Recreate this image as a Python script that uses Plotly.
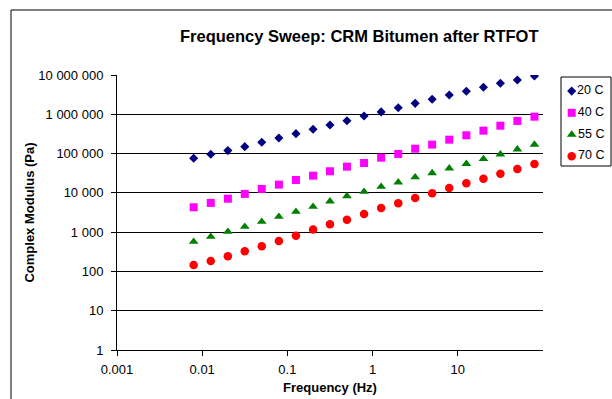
import plotly.graph_objects as go

# ---- data ----
freq = [0.00794, 0.0126, 0.02, 0.0316, 0.05, 0.0794, 0.126, 0.2, 0.316, 0.5,
        0.794, 1.26, 2, 3.16, 5, 7.94, 12.6, 20, 31.6, 50, 79.4]
g20 = [76000, 96000, 119000, 150000, 194000, 250000, 321000, 415000, 535000, 687000,
       905000, 1150000, 1470000, 1900000, 2410000, 3100000, 3850000, 4860000, 6150000,
       7460000, 9440000]
g40 = [4300, 5540, 7100, 9400, 12600, 16200, 21300, 27400, 35500, 46500,
       57600, 78700, 97800, 133000, 169000, 226000, 292000, 383000, 513000, 676000, 869000]
g55 = [573, 768, 1030, 1380, 1850, 2480, 3320, 4450, 6100, 8300,
       10700, 14400, 18600, 25000, 32000, 42000, 55000, 73000, 96000, 128000, 169000]
g70 = [146, 185, 244, 327, 437, 597, 815, 1160, 1590, 2080,
       2900, 4130, 5430, 7400, 9800, 13300, 17500, 23000, 30800, 40500, 54300]

series_names = ["20 C", "40 C", "55 C", "70 C"]
series_vals = [g20, g40, g55, g70]

y_tickvals = [1, 10, 100, 1000, 10000, 100000, 1000000, 10000000]
y_ticktext = ["1", "10", "100", "1 000", "10 000", "100 000", "1 000 000", "10 000 000"]
x_tickvals = [0.001, 0.01, 0.1, 1, 10]
x_ticktext = ["0.001", "0.01", "0.1", "1", "10"]

title_text = "Frequency Sweep: CRM Bitumen after RTFOT"
x_title = "Frequency (Hz)"
y_title = "Complex Modulus (Pa)"

# ---- styles ----
styles = [
    dict(symbol="diamond", color="#000080", size=7),
    dict(symbol="square", color="#FF00FF", size=8),
    dict(symbol="triangle-up", color="#008000", size=8.5),
    dict(symbol="circle", color="#FF0000", size=8.5),
]
FONT = "Liberation Sans, Arial, sans-serif"

W, H = 612, 399
L, R, T, B = 117, 0, 75, 49
plot_w = W - L - R
plot_h = H - T - B
main_right_px = 543
main_dom = (main_right_px - L) / plot_w


def px_x(px):
    return (px - L) / plot_w


def px_y(py):
    return (H - B - py) / plot_h


fig = go.Figure()

for name, vals, st in zip(series_names, series_vals, styles):
    fig.add_trace(go.Scatter(
        x=freq, y=vals, mode="markers", name=name, showlegend=False,
        marker=dict(symbol=st["symbol"], color=st["color"], size=st["size"],
                    line=dict(width=0)),
        xaxis="x", yaxis="y",
    ))

# legend built on a small helper axis
for name, st in zip(series_names, styles):
    fig.add_trace(go.Scatter(
        x=[0], y=[name], mode="markers+text", text=[name],
        textposition="middle right", showlegend=False,
        textfont=dict(family=FONT, size=12.5, color="black"),
        marker=dict(symbol=st["symbol"], color=st["color"], size=st["size"],
                    line=dict(width=0)),
        xaxis="x2", yaxis="y2", hoverinfo="skip",
    ))

fig.update_layout(
    width=W, height=H,
    margin=dict(l=L, r=R, t=T, b=B, pad=0),
    paper_bgcolor="white", plot_bgcolor="white",
    font=dict(family=FONT, size=13, color="black"),
    xaxis=dict(
        type="log", range=[-3, 2], domain=[0, main_dom], anchor="y",
        tickvals=x_tickvals, ticktext=x_ticktext,
        showgrid=False, zeroline=False,
        showline=True, linecolor="black", linewidth=1,
        ticks="outside", ticklen=5, tickcolor="black", tickwidth=1,
        ticklabelstandoff=2,
        title=dict(text="<b>" + x_title + "</b>", font=dict(size=13), standoff=7),
    ),
    yaxis=dict(
        type="log", range=[0, 7], domain=[0, 1], anchor="x",
        tickvals=y_tickvals, ticktext=y_ticktext,
        showgrid=True, gridcolor="black", gridwidth=1, zeroline=False,
        showline=True, linecolor="black", linewidth=1,
        ticks="outside", ticklen=5, tickcolor="black", tickwidth=1,
        ticklabelstandoff=5,
        title=dict(text="<b>" + y_title + "</b>", font=dict(size=13), standoff=0),
    ),
    xaxis2=dict(domain=[px_x(561), px_x(611)], anchor="y2", range=[-10.7, 39.3],
                visible=False, fixedrange=True),
    yaxis2=dict(domain=[px_y(166), px_y(77)], anchor="x2", type="category",
                categoryorder="array", categoryarray=series_names,
                range=[3.45, -0.65], visible=False, fixedrange=True),
    annotations=[dict(
        text="<b>" + title_text + "</b>", xref="paper", yref="paper",
        x=px_x(359), y=px_y(36), xanchor="center", yanchor="middle",
        showarrow=False, font=dict(family=FONT, size=16.5, color="black"),
    )],
    shapes=[
        dict(type="rect", xref="x2 domain", yref="y2 domain", x0=0, x1=1, y0=0, y1=1,
             line=dict(color="black", width=1), fillcolor="rgba(0,0,0,0)"),
        dict(type="line", xref="paper", yref="paper",
             x0=px_x(11), x1=px_x(620), y0=px_y(10), y1=px_y(10),
             line=dict(color="black", width=1)),
        dict(type="line", xref="paper", yref="paper",
             x0=px_x(11), x1=px_x(11), y0=px_y(10), y1=px_y(405),
             line=dict(color="black", width=1)),
    ],
)

fig.write_html("out.html")
